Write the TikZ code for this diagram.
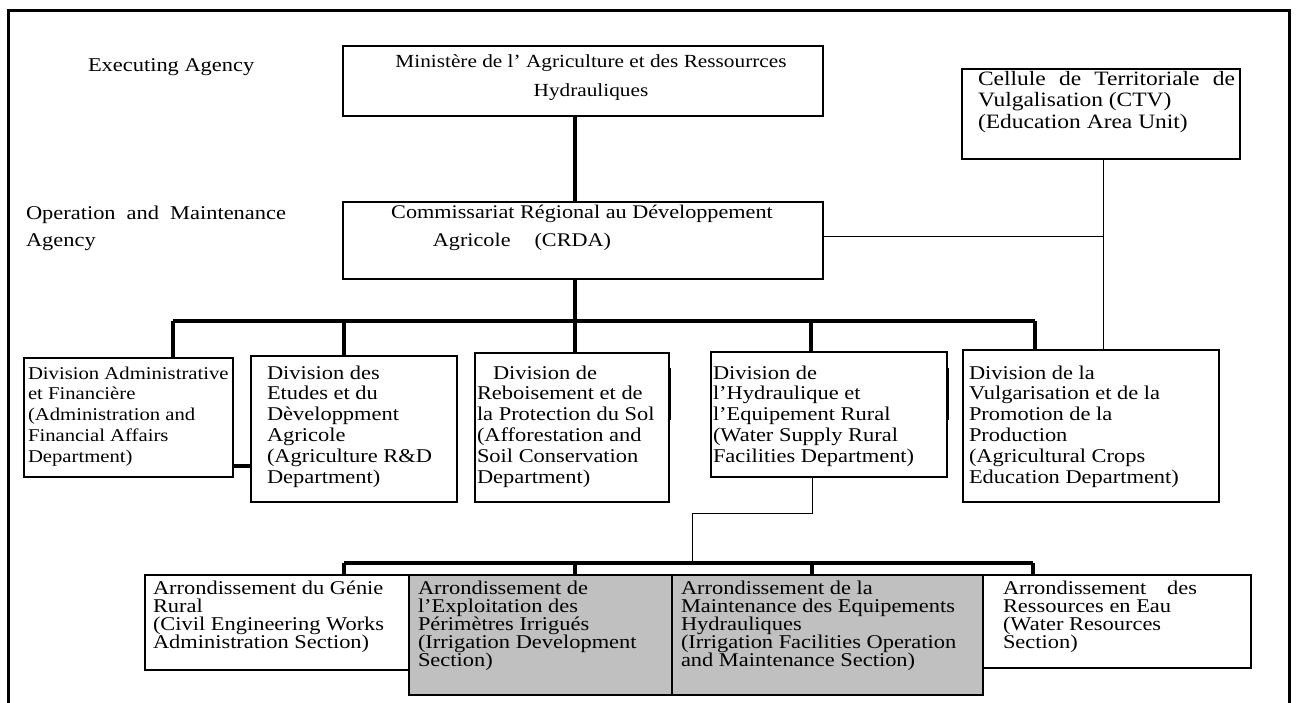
\documentclass[tikz,border=0pt]{standalone}
\usepackage{fontspec}
\setmainfont{Liberation Serif}[FakeStretch=1.15]
\usetikzlibrary{calc}
\definecolor{boxgrey}{RGB}{192,192,192}
\newcommand{\fsz}[2]{\fontsize{#1}{#2}\selectfont}
\begin{document}
\begin{tikzpicture}[x=1pt,y=-1pt,
  boxnode/.style={draw,line width=1.8pt,anchor=north west,inner sep=0pt,outer sep=0pt},
  txt/.style={anchor=base west,inner sep=0pt,outer sep=0pt},
  thickln/.style={line width=3.5pt},
  busln/.style={line width=4pt},
  thinln/.style={line width=1pt}]
\clip (0,0) rectangle (1298,702);
\fill[white] (0,0) rectangle (1298,702);
% outer frame
\draw[line width=3pt] (8,720) -- (8,10) -- (1289,10) -- (1289,720);

% boxes
\node[boxnode,minimum width=480pt,minimum height=70pt] (mini) at (343,46) {};
\node[boxnode,minimum width=278pt,minimum height=90pt] (ctv) at (962,69) {};
\node[boxnode,minimum width=480pt,minimum height=77pt] (crda) at (343,202) {};
\node[boxnode,minimum width=209pt,minimum height=119pt] (admin) at (24,358) {};
\node[boxnode,minimum width=206pt,minimum height=146pt] (etudes) at (251,356) {};
\node[boxnode,minimum width=194pt,minimum height=149pt] (reb) at (475,353) {};
\node[boxnode,minimum width=236pt,minimum height=125pt] (hyd) at (711,352) {};
\node[boxnode,minimum width=256pt,minimum height=152pt] (vulg) at (963,350) {};
\node[boxnode,minimum width=264pt,minimum height=95pt] (genie) at (145,575) {};
\node[boxnode,fill=boxgrey,minimum width=263pt,minimum height=120pt] (expl) at (409,575) {};
\node[boxnode,fill=boxgrey,minimum width=311pt,minimum height=120pt] (maint) at (672,575) {};
\node[boxnode,minimum width=268pt,minimum height=93pt] (ress) at (983,575) {};

% side labels
\node[txt] (exec) at (88,71) {\fsz{19.5}{21}Executing Agency};
\node[txt] (om) at (26,219) {\parbox[t]{300pt}{\fsz{19.5}{27}\makebox[260pt][s]{Operation and Maintenance}\\Agency}};

% box texts
\node[anchor=base,inner sep=0pt] (miniT) at (591,67) {\parbox[t]{470pt}{\centering\fsz{18.5}{29}Ministère de l’ Agriculture et des Ressourrces\\Hydrauliques}};
\node[txt] (ctvT) at (978,85) {\parbox[t]{270pt}{\fsz{20.4}{21.5}\makebox[257pt][s]{Cellule de Territoriale de}\\Vulgalisation (CTV)\\(Education Area Unit)}};
\node[anchor=base,inner sep=0pt] (crdaT) at (582,218) {\parbox[t]{470pt}{\centering\fsz{19.3}{28}Commissariat Régional au Développement\\Agricole\hspace{24pt}(CRDA)\hspace*{120pt}}};

\node[txt] (adminT) at (28,379) {\parbox[t]{300pt}{\raggedright\fsz{18}{20.8}Division Administrative\\et Financière\\(Administration and\\Financial Affairs\\Department)}};
\node[txt] (etudesT) at (267,379) {\parbox[t]{300pt}{\raggedright\fsz{19.5}{20.8}Division des\\Etudes et du\\Dèveloppment\\Agricole\\(Agriculture R\&D\\Department)}};
\node[txt] (rebT) at (477,379) {\parbox[t]{300pt}{\raggedright\fsz{19.5}{20.8}\hspace*{16pt}Division de\\Reboisement et de\\la Protection du Sol\\(Afforestation and\\Soil Conservation\\Department)}};
\node[txt] (hydT) at (713,379) {\parbox[t]{300pt}{\raggedright\fsz{19.5}{20.8}Division de\\l’Hydraulique et\\l’Equipement Rural\\(Water Supply Rural\\Facilities Department)}};
\node[txt] (vulgT) at (969,379) {\parbox[t]{300pt}{\raggedright\fsz{19.5}{20.8}Division de la\\Vulgarisation et de la\\Promotion de la\\Production\\(Agricultural Crops\\Education Department)}};

\node[txt] (genieT) at (153,594) {\parbox[t]{300pt}{\raggedright\fsz{19.5}{18}Arrondissement du Génie\\Rural\\(Civil Engineering Works\\Administration Section)}};
\node[txt] (explT) at (418,594) {\parbox[t]{300pt}{\raggedright\fsz{19.5}{18}Arrondissement de\\l’Exploitation des\\Périmètres Irrigués\\(Irrigation Development\\Section)}};
\node[txt] (maintT) at (681,594) {\parbox[t]{320pt}{\raggedright\fsz{19.5}{18}Arrondissement de la\\Maintenance des Equipements\\Hydrauliques\\(Irrigation Facilities Operation\\and Maintenance Section)}};
\node[txt] (ressT) at (1003,594) {\parbox[t]{300pt}{\raggedright\fsz{19.5}{18}\makebox[194pt][s]{Arrondissement des}\\Ressources en Eau\\(Water Resources\\Section)}};

% connector coordinates
\coordinate (busL) at (173,321);
\coordinate (bus2) at (344,321);
\coordinate (bus3) at (575,321);
\coordinate (bus4) at (811,321);
\coordinate (busR) at (1035,321);
\coordinate (j) at (1103,236);
\coordinate (h1) at (812,513);
\coordinate (h2) at (692,513);
\coordinate (lbL) at (344,563);
\coordinate (lb2) at (575,563);
\coordinate (lb3) at (812,563);
\coordinate (lbR) at (1033,563);

% upper connectors
\draw[thickln] (bus3 |- mini.south) -- (bus3 |- crda.north);
\draw[thickln] (bus3 |- crda.south) -- (bus3);
\draw[busln] (busL) -- (busR);
\draw[thickln] (busL) -- (busL |- admin.north);
\draw[thickln] (bus2) -- (bus2 |- etudes.north);
\draw[thickln] (bus3) -- (bus3 |- reb.north);
\draw[thickln] (bus4) -- (bus4 |- hyd.north);
\draw[thickln] (busR) -- (busR |- vulg.north);
\draw[thinln] (crda.east |- j) -- (j);
\draw[thinln] (ctv.south -| j) -- (j |- vulg.north);
\draw[thickln] (admin.east |- 0,466) -- (etudes.west |- 0,466);
\draw[line width=3pt] (reb.east |- 0,368) -- (reb.east |- 0,420);
\draw[line width=3pt] (hyd.east |- 0,368) -- (hyd.east |- 0,420);

% lower connectors
\draw[thinln] (hyd.south -| h1) -- (h1) -- (h2) -- (h2 |- lbL);
\draw[busln] (lbL) -- (lbR);
\draw[thickln] (lbL) -- (lbL |- genie.north);
\draw[thickln] (lb2) -- (lb2 |- expl.north);
\draw[thickln] (lb3) -- (lb3 |- maint.north);
\draw[thickln] (lbR) -- (lbR |- ress.north);
\end{tikzpicture}
\end{document}
